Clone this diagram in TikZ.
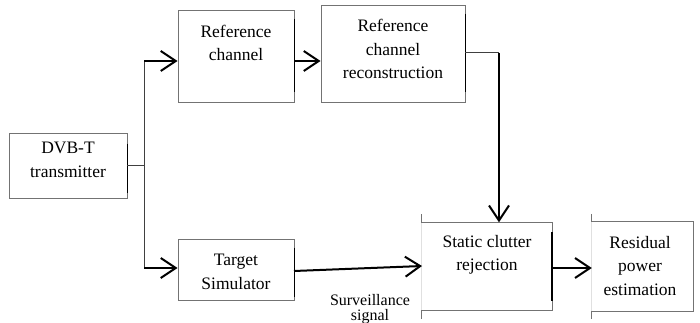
\documentclass[tikz,border=0pt]{standalone}
\usepackage{fontspec}
\setmainfont{Liberation Serif}
\usetikzlibrary{arrows.meta}
\begin{document}
\begin{tikzpicture}[x=1pt,y=-1pt,
  blk/.style={draw=black!55, line width=0.9pt, rectangle, inner sep=0pt},
  openblk/.style={rectangle, inner sep=0pt},
  frame/.style={draw=black!55, line width=0.9pt},
  faint/.style={draw=black!12, line width=0.9pt},
  txt/.style={align=center, font=\fontsize{17.5}{23.5}\selectfont, inner sep=0pt},
  small/.style={align=center, font=\fontsize{16}{15}\selectfont, inner sep=0pt},
  edge/.style={line width=1.8pt, black},
  thin/.style={line width=1pt, black!75},
  arr/.style={line width=2pt, -{Straight Barb[length=15pt,width=20pt,line width=2pt]}}
]
\useasboundingbox (0,0) rectangle (700,323);
% boxes
\node[blk, minimum width=118pt, minimum height=65pt] (dvb) at (68,165.5) {};
\node[blk, minimum width=116pt, minimum height=92pt] (rc) at (236,56) {};
\node[blk, minimum width=144pt, minimum height=97pt] (rcr) at (393,53.5) {};
\node[blk, minimum width=116pt, minimum height=61pt] (ts) at (236,269.5) {};
\node[openblk, minimum width=130pt, minimum height=88pt] (sc) at (487,266.5) {};
\node[openblk, minimum width=101pt, minimum height=89pt] (rpe) at (642.5,266.5) {};
% frames of the two right boxes (left edge faint except its ends)
\foreach \b in {sc,rpe}{
  \draw[faint] (\b.north west) -- (\b.south west);
  \draw[frame] ([yshift=8pt]\b.north west) -- (\b.north west) -- (\b.north east)
     -- (\b.south east) -- (\b.south west) -- ([yshift=-8pt]\b.south west);
}
% thick right edges
\draw[edge] ([yshift=-11pt]dvb.north east) -- ([yshift=5pt]dvb.south east);
\draw[edge] ([yshift=-9pt]rc.north east) -- ([yshift=10pt]rc.south east);
\draw[edge] ([yshift=-9pt]rcr.north east) -- ([yshift=10pt]rcr.south east);
\draw[edge] ([yshift=-9pt]ts.north east) -- ([yshift=3pt]ts.south east);
\draw[edge] ([yshift=-10pt]sc.north east) -- ([yshift=10pt]sc.south east);
% texts
\node[txt] (tdvb) at (68,160) {DVB-T\\transmitter};
\node[txt] (trc) at (236,43) {Reference\\channel};
\node[txt] (trcr) at (393,49) {Reference\\channel\\reconstruction};
\node[txt] (tts) at (236,272) {Target\\Simulator};
\node[txt] (tsc) at (487,255) {Static clutter\\rejection};
\node[txt] (trpe) at (640,266) {Residual\\power\\estimation};
\node[small] (sur) at (370,309) {Surveillance\\signal};
% connectors
\coordinate (j) at (144,165);
\coordinate (jt) at (144,61);
\coordinate (jb) at (144,268);
\draw[thin] (dvb.east |- j) -- (j);
\draw[thin] (jt) -- (jb);
\draw[arr] (jt) -- (rc.west |- jt);
\draw[arr] (jb) -- (ts.west |- jb);
\draw[arr] (rc.east |- jt) -- (rcr.west |- jt);
\coordinate (c1) at (499,53);
\draw[thin] (rcr.east |- c1) -- (c1);
\draw[arr] (c1) -- (sc.north -| c1);
\coordinate (s1) at (294,271);
\coordinate (s2) at (422,266);
\draw[arr] (s1) -- (s2);
\draw[arr] (sc.east |- 0,268) -- (rpe.west |- 0,268);
\end{tikzpicture}
\end{document}
